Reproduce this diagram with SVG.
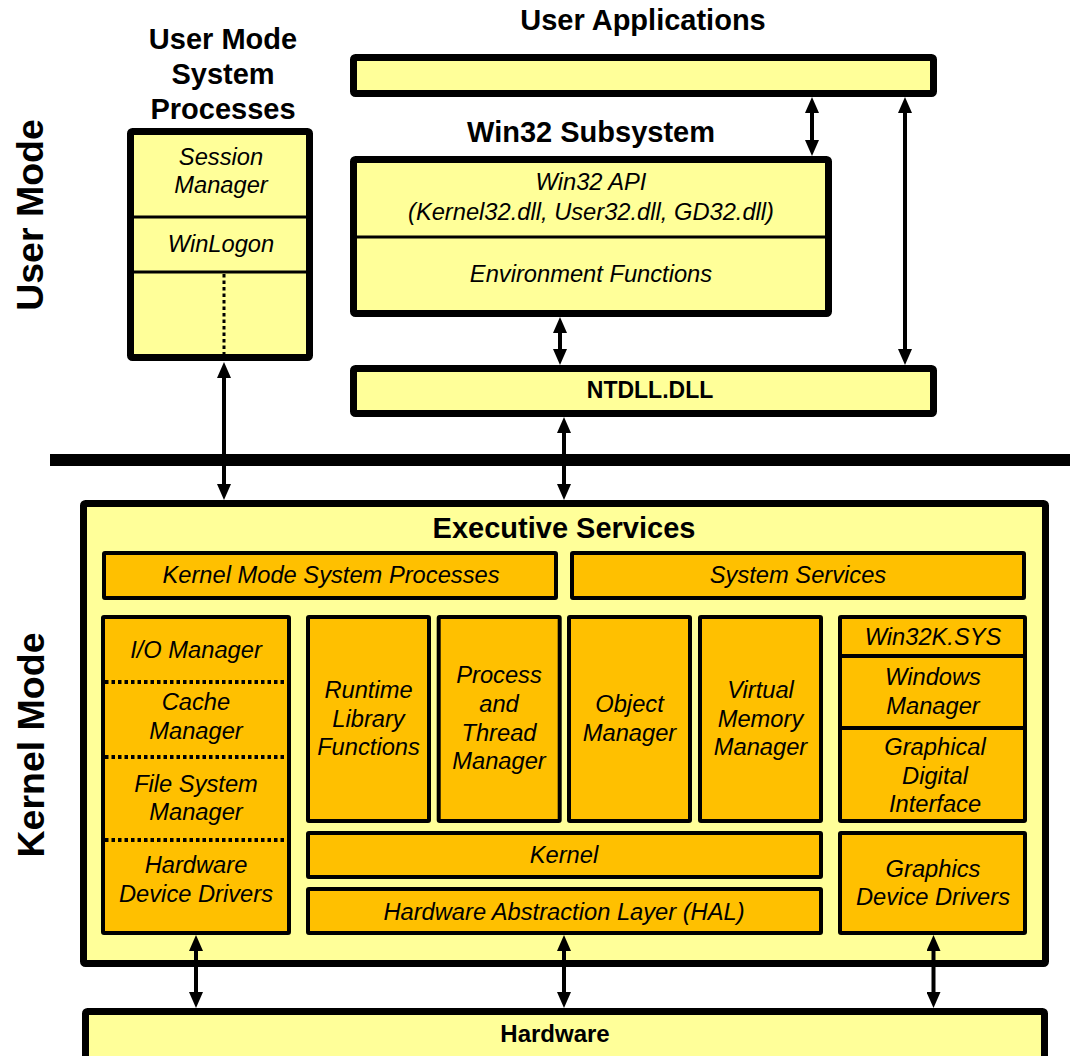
<svg xmlns="http://www.w3.org/2000/svg" width="1070" height="1056" viewBox="0 0 1070 1056">
<defs>
<style>
.lt{fill:#FFFF99;stroke:#000;stroke-width:7}
.or{fill:#FFC000;stroke:#000;stroke-width:4}
.dv{stroke:#000;stroke-width:4;fill:none}
.dot{stroke:#000;stroke-width:4;stroke-dasharray:3.5 3;fill:none}
.con{stroke:#000;stroke-width:4;fill:none;marker-start:url(#ah);marker-end:url(#ah)}
text{font-family:"Liberation Sans",Arial,sans-serif;fill:#000;text-anchor:middle}
.t{font-size:29px;font-weight:bold}
.s{font-size:37.5px;font-weight:bold}
.i{font-size:23.7px;font-style:italic}
.b{font-size:23px;font-weight:bold}
</style>
<marker id="ah" viewBox="0 0 16 14" refX="6" refY="7" markerWidth="16" markerHeight="14" markerUnits="userSpaceOnUse" orient="auto-start-reverse">
<path d="M0,0 L16,7 L0,14 z" fill="#000"/>
</marker>
</defs>
<rect width="1070" height="1056" fill="#fff"/>

<g id="side-labels">
<text class="s" transform="translate(43,215) rotate(-90)">User Mode</text>
<text class="s" transform="translate(44,745) rotate(-90)">Kernel Mode</text>
</g>

<g id="mode-divider">
<line x1="50" y1="460" x2="1070" y2="460" stroke="#000" stroke-width="12"/>
</g>

<g id="user-mode-system-processes">
<text class="t" x="223" y="49">User Mode</text>
<text class="t" x="223" y="84">System</text>
<text class="t" x="223" y="119">Processes</text>
<rect class="lt" x="130.5" y="131.5" width="179" height="226" rx="2"/>
<line class="dv" x1="134" y1="217" x2="306" y2="217" style="stroke-width:3"/>
<line class="dv" x1="134" y1="272" x2="306" y2="272" style="stroke-width:3"/>
<line x1="224" y1="274" x2="224" y2="354" stroke="#000" stroke-width="3" stroke-dasharray="3.5 3"/>
<text class="i" x="221" y="165">Session</text>
<text class="i" x="221" y="193">Manager</text>
<text class="i" x="221" y="252">WinLogon</text>
</g>

<g id="user-applications">
<text class="t" x="643" y="30">User Applications</text>
<rect class="lt" x="353.5" y="57.5" width="580" height="36" rx="2"/>
</g>

<g id="win32-subsystem">
<text class="t" x="591" y="142">Win32 Subsystem</text>
<rect class="lt" x="353.5" y="159.5" width="475" height="154" rx="2"/>
<line class="dv" x1="357" y1="237" x2="825" y2="237" style="stroke-width:3"/>
<text class="i" x="591" y="190">Win32 API</text>
<text class="i" x="591" y="220">(Kernel32.dll, User32.dll, GD32.dll)</text>
<text class="i" x="591" y="282">Environment Functions</text>
</g>

<g id="ntdll">
<rect class="lt" x="353.5" y="368.5" width="580" height="45" rx="2"/>
<text class="b" x="650" y="398">NTDLL.DLL</text>
</g>

<g id="executive-services">
<rect class="lt" x="83.5" y="503.5" width="962" height="460" rx="2"/>
<text class="t" x="564" y="538">Executive Services</text>
</g>

<g id="kernel-mode-system-processes">
<rect class="or" x="104" y="553" width="452" height="45" rx="1"/>
<text class="i" x="331" y="583">Kernel Mode System Processes</text>
</g>

<g id="system-services">
<rect class="or" x="572" y="553" width="452" height="45" rx="1"/>
<text class="i" x="798" y="583">System Services</text>
</g>

<g id="io-column">
<rect class="or" x="103" y="617" width="186" height="316" rx="1"/>
<line class="dot" x1="105" y1="682" x2="287" y2="682"/>
<line class="dot" x1="105" y1="757" x2="287" y2="757"/>
<line class="dot" x1="105" y1="840" x2="287" y2="840"/>
<text class="i" x="196" y="658">I/O Manager</text>
<text class="i" x="196" y="710">Cache</text>
<text class="i" x="196" y="739">Manager</text>
<text class="i" x="196" y="792">File System</text>
<text class="i" x="196" y="820">Manager</text>
<text class="i" x="196" y="873">Hardware</text>
<text class="i" x="196" y="902">Device Drivers</text>
</g>

<g id="runtime-library">
<rect class="or" x="308" y="617" width="121" height="204" rx="1"/>
<text class="i" x="368.5" y="698">Runtime</text>
<text class="i" x="368.5" y="727">Library</text>
<text class="i" x="368.5" y="755">Functions</text>
</g>

<g id="process-thread-manager">
<rect class="or" x="438.7" y="617" width="121" height="204" rx="1"/>
<text class="i" x="499" y="683">Process</text>
<text class="i" x="499" y="712">and</text>
<text class="i" x="499" y="741">Thread</text>
<text class="i" x="499" y="769">Manager</text>
</g>

<g id="object-manager">
<rect class="or" x="569" y="617" width="121" height="204" rx="1"/>
<text class="i" x="629.5" y="712">Object</text>
<text class="i" x="629.5" y="741">Manager</text>
</g>

<g id="virtual-memory-manager">
<rect class="or" x="700" y="617" width="121" height="204" rx="1"/>
<text class="i" x="760.5" y="698">Virtual</text>
<text class="i" x="760.5" y="727">Memory</text>
<text class="i" x="760.5" y="755">Manager</text>
</g>

<g id="win32k-sys">
<rect class="or" x="840" y="617" width="185" height="204" rx="1"/>
<line class="dv" x1="840" y1="656" x2="1025" y2="656"/>
<line class="dv" x1="840" y1="728" x2="1025" y2="728"/>
<text class="i" x="933" y="645">Win32K.SYS</text>
<text class="i" x="933" y="685">Windows</text>
<text class="i" x="933" y="714">Manager</text>
<text class="i" x="935" y="755">Graphical</text>
<text class="i" x="935" y="784">Digital</text>
<text class="i" x="935" y="812">Interface</text>
</g>

<g id="kernel">
<rect class="or" x="308" y="833" width="513" height="44" rx="1"/>
<text class="i" x="564" y="863">Kernel</text>
</g>

<g id="hal">
<rect class="or" x="308" y="889" width="513" height="44" rx="1"/>
<text class="i" x="564" y="920">Hardware Abstraction Layer (HAL)</text>
</g>

<g id="graphics-device-drivers">
<rect class="or" x="840" y="833" width="185" height="100" rx="1"/>
<text class="i" x="933" y="877">Graphics</text>
<text class="i" x="933" y="905">Device Drivers</text>
</g>

<g id="hardware">
<rect class="lt" x="85.5" y="1011.5" width="959" height="60" rx="2"/>
<text class="b" x="555" y="1042" style="font-size:24px">Hardware</text>
</g>

<g id="connectors">
<line class="con" x1="224" y1="372" x2="224" y2="490"/>
<line class="con" x1="812" y1="107" x2="812" y2="146"/>
<line class="con" x1="905" y1="107" x2="905" y2="355"/>
<line class="con" x1="560" y1="327" x2="560" y2="355"/>
<line class="con" x1="564" y1="427" x2="564" y2="490"/>
<line class="con" x1="196" y1="945" x2="196" y2="998"/>
<line class="con" x1="564" y1="945" x2="564" y2="998"/>
<line class="con" x1="933.5" y1="945" x2="933.5" y2="998"/>
</g>
</svg>
